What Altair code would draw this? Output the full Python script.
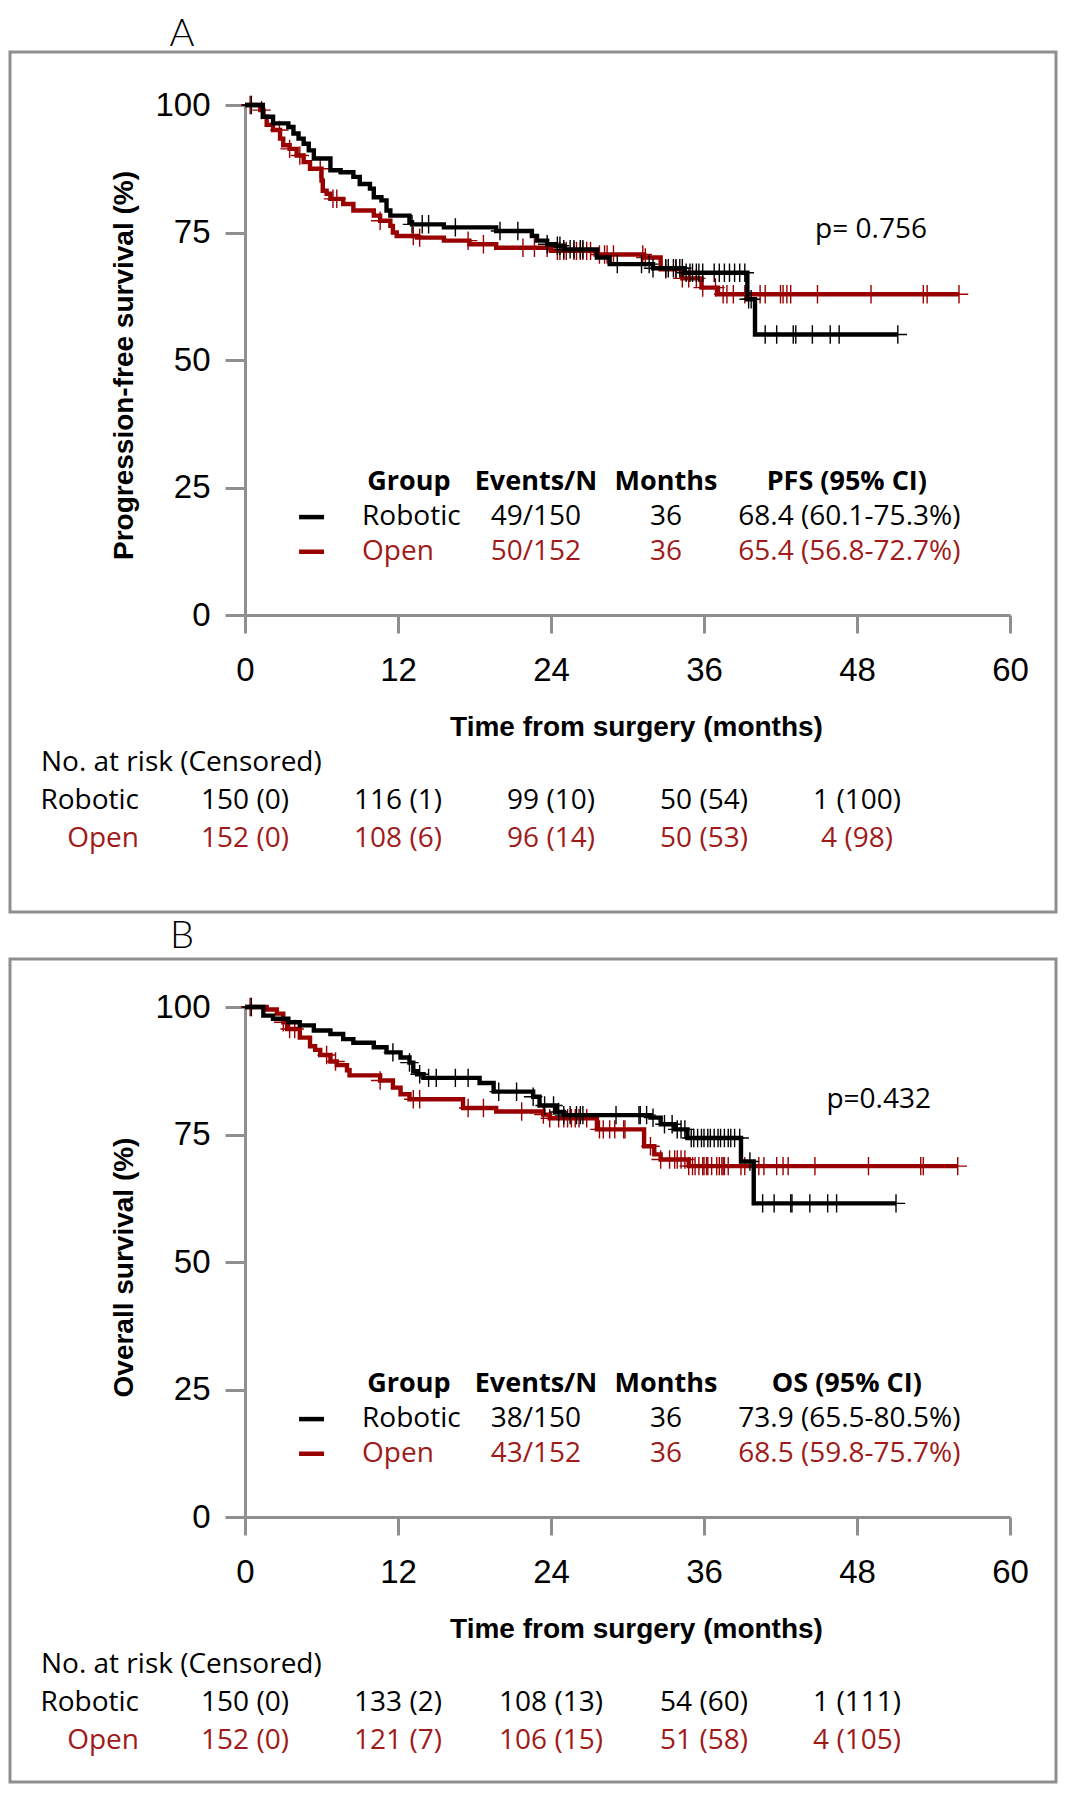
import altair as alt
import pandas as pd

# ---------------- data ----------------
GROUPS = ["Robotic", "Open"]

# Panel A: progression-free survival (step curves: time in months, survival %)
PFS_ROB_T = [0, 1.4, 2.2, 3.4, 3.8, 4.2, 4.6, 5.0, 5.4, 6.7, 7.5, 8.5, 9.0, 9.8, 10.1, 10.7, 11.1, 11.4,
             12.9, 13.1, 15.6, 19.7, 22.5, 22.9, 23.7, 24.4, 25.0, 27.6, 28.6, 32.0, 34.5, 39.4, 40.0, 51.2]
PFS_ROB_S = [100, 97.7, 96.4, 95.7, 94.4, 93.4, 92.4, 91.1, 89.5, 87.2, 86.8, 85.9, 84.5, 83.6, 81.9, 81.3, 79.3, 78.3,
             77.0, 76.6, 76.0, 75.3, 74.3, 73.4, 72.7, 72.4, 71.7, 70.1, 68.8, 68.0, 67.1, 61.9, 55.0, 55.0]
PFS_OPEN_T = [0, 1.2, 1.45, 1.7, 2.2, 2.75, 3.0, 3.5, 4.05, 4.6, 5.1, 6.0, 6.1, 6.4, 6.7, 7.7, 8.5, 10.1, 10.6,
              11.4, 11.6, 11.9, 13.5, 15.6, 17.6, 19.7, 24.0, 27.5, 31.3, 32.6, 34.3, 35.8, 37.1, 56.0]
PFS_OPEN_S = [100, 99.0, 97.7, 96.1, 95.1, 93.4, 92.1, 91.4, 90.1, 88.8, 87.5, 85.2, 83.2, 82.6, 81.6, 80.6, 79.3,
              78.3, 77.3, 76.3, 75.0, 74.3, 74.0, 73.4, 72.7, 72.0, 71.4, 70.7, 70.1, 67.8, 66.0, 64.2, 62.9, 62.9]
PFS_ROB_CENS = [0.5, 13.1, 13.9, 14.4, 16.5, 20.0, 21.4, 23.7, 24.5, 24.7, 25.0, 25.5, 25.8, 26.3, 26.5, 29.2,
                31.1, 31.7, 32.0, 33.0, 33.2, 33.6, 33.8, 34.1, 34.3, 34.6, 34.9, 35.1, 35.4, 35.6, 35.9, 36.8,
                37.2, 37.6, 38.0, 38.4, 38.8, 39.2, 39.5, 39.7, 40.8, 41.7, 43.0, 43.2, 44.5, 45.9, 46.6, 51.2]
PFS_OPEN_CENS = [0.4, 1.3, 2.7, 3.5, 4.3, 5.9, 6.9, 7.2, 10.6, 13.2, 13.7, 17.5, 18.7, 21.8, 22.7, 23.7, 24.5,
                 24.7, 25.0, 25.2, 25.8, 26.0, 26.3, 26.5, 26.8, 27.1, 27.8, 28.2, 28.4, 28.9, 31.2, 31.4, 33.0,
                 33.8, 34.3, 34.8, 35.4, 35.9, 36.9, 37.5, 37.8, 38.3, 39.2, 40.4, 40.8, 42.0, 42.2, 42.5, 42.8,
                 44.9, 49.1, 53.2, 53.5, 56.0]

# Panel B: overall survival
OS_ROB_T = [0, 1.44, 2.2, 3.4, 4.3, 5.4, 6.7, 7.7, 8.5, 10.1, 11.1, 12.2, 12.9, 13.2, 13.5, 14.0, 18.4, 19.5,
            22.6, 23.1, 24.4, 25.0, 31.8, 32.6, 33.7, 34.7, 38.9, 39.9, 51.06]
OS_ROB_S = [100, 98.3, 97.7, 97.0, 96.4, 95.4, 94.7, 93.7, 93.0, 92.1, 91.1, 90.1, 89.1, 87.4, 86.8, 86.1, 85.1,
            83.4, 82.4, 80.7, 79.4, 78.8, 78.3, 77.0, 76.0, 74.3, 69.7, 61.5, 61.5]
OS_OPEN_T = [0, 1.7, 2.5, 3.0, 3.3, 4.3, 5.1, 5.5, 5.9, 6.7, 7.2, 8.0, 8.2, 10.6, 11.6, 12.2, 12.9, 17.1, 19.7,
             23.4, 23.9, 27.6, 31.3, 32.1, 32.6, 34.8, 55.9]
OS_OPEN_S = [100, 99.5, 98.7, 97.0, 95.7, 94.0, 92.3, 91.6, 90.6, 89.3, 88.6, 87.6, 86.6, 85.6, 84.2, 82.9, 81.9,
             80.2, 79.5, 78.9, 78.2, 76.0, 72.7, 71.1, 70.1, 68.8, 68.8]
OS_ROB_CENS = [0.5, 11.6, 12.9, 13.7, 14.4, 15.0, 16.5, 17.5, 19.9, 21.3, 22.6, 23.5, 24.2, 24.6, 25.0, 25.5,
               26.0, 26.3, 26.5, 29.1, 30.9, 31.0, 31.5, 32.0, 32.9, 33.5, 33.9, 34.2, 34.5, 35.0, 35.2, 35.5,
               35.8, 36.0, 36.3, 36.5, 36.8, 37.1, 37.3, 37.6, 37.9, 38.1, 38.4, 38.8, 39.6, 40.6, 41.5, 42.8,
               42.9, 44.3, 45.7, 46.4, 51.06]
OS_OPEN_CENS = [0.4, 3.0, 3.5, 3.9, 6.4, 7.1, 10.6, 13.2, 13.7, 17.5, 18.7, 21.7, 23.4, 23.9, 24.6, 25.0, 25.3,
                25.6, 25.9, 26.2, 26.8, 27.8, 28.1, 28.6, 29.0, 29.7, 29.8, 31.8, 32.6, 33.3, 33.7, 33.9, 34.2,
                34.5, 34.8, 35.1, 35.3, 35.6, 35.9, 36.0, 36.2, 36.3, 36.6, 37.0, 37.2, 37.4, 37.5, 37.6, 37.9,
                38.9, 39.2, 40.3, 40.7, 41.7, 42.2, 42.6, 44.7, 48.9, 53.0, 53.2, 55.9]

# Legend tables
PFS_HEADERS = ["Group", "Events/N", "Months", "PFS (95% CI)"]
OS_HEADERS = ["Group", "Events/N", "Months", "OS (95% CI)"]
PFS_EVENTS = ["49/150", "50/152"]
OS_EVENTS = ["38/150", "43/152"]
MONTHS = ["36", "36"]
PFS_EST = ["68.4 (60.1-75.3%)", "65.4 (56.8-72.7%)"]
OS_EST = ["73.9 (65.5-80.5%)", "68.5 (59.8-75.7%)"]
P_PFS = "p= 0.756"
P_OS = "p=0.432"

# Numbers at risk
RISK_TIMES = [0, 12, 24, 36, 48]
PFS_RISK_ROB = ["150 (0)", "116 (1)", "99 (10)", "50 (54)", "1 (100)"]
PFS_RISK_OPEN = ["152 (0)", "108 (6)", "96 (14)", "50 (53)", "4 (98)"]
OS_RISK_ROB = ["150 (0)", "133 (2)", "108 (13)", "54 (60)", "1 (111)"]
OS_RISK_OPEN = ["152 (0)", "121 (7)", "106 (15)", "51 (58)", "4 (105)"]

X_TICKS = [0, 12, 24, 36, 48, 60]
Y_TICKS = [0, 25, 50, 75, 100]

# ---------------- styling ----------------
BLACK = "#000000"
RED = "#990000"
RED_TXT = "#A01A1A"
GRAY = "#8f8f8f"
TXT_FONT = "Open Sans"
AX_FONT = "Liberation Sans"
FS = 28
W, H = 765, 510


def make_x():
    return alt.X("t:Q", scale=alt.Scale(domain=[0, 60], nice=False, zero=False),
                 axis=alt.Axis(values=X_TICKS, format="d", title="Time from surgery (months)",
                               titleX=391, titleY=112, titleAlign="center", titleBaseline="middle",
                               tickSize=18, labelPadding=21))


def make_y(title):
    return alt.Y("s:Q", scale=alt.Scale(domain=[0, 100], nice=False, zero=False),
                 axis=alt.Axis(values=Y_TICKS, format="d", title=title, titleX=-121, titleY=260,
                               titleAngle=270, titleAlign="center", titleBaseline="middle",
                               tickSize=20, labelPadding=15))


def censor_df(cens, ts, ss):
    steps = pd.DataFrame({"t": [float(v) for v in ts], "s": ss}).sort_values("t")
    c = pd.DataFrame({"t": sorted(float(v) for v in cens)})
    return pd.merge_asof(c, steps, on="t")


ONE = pd.DataFrame({"a": [0]})


def panel(letter, ytitle, rob_t, rob_s, open_t, open_s, rob_c, open_c, ptext, ppos,
          headers, events, est, risk_rob, risk_open, top, box_top, bottom, letter_y, risk_y):
    X = make_x()
    Y = make_y(ytitle)
    layers = []
    # invisible background defining the panel bounds
    layers.append(alt.Chart(ONE).mark_rect(opacity=0).encode(
        x=alt.value(-237), x2=alt.value(813), y=alt.value(top), y2=alt.value(bottom)))
    # gray frame
    layers.append(alt.Chart(ONE).mark_rect(fillOpacity=0, stroke=GRAY, strokeWidth=3).encode(
        x=alt.value(-235), x2=alt.value(811), y=alt.value(box_top), y2=alt.value(bottom - 2)))
    # panel letter
    layers.append(alt.Chart(pd.DataFrame({"lab": [letter]})).mark_text(
        font="Lato", fontSize=38, fontWeight=300, align="center", baseline="middle", color=BLACK
    ).encode(x=alt.value(-63), y=alt.value(letter_y), text="lab:N"))

    # survival curves
    for ts, ss, cens, col in [(open_t, open_s, open_c, RED), (rob_t, rob_s, rob_c, BLACK)]:
        df = pd.DataFrame({"t": ts, "s": ss})
        layers.append(alt.Chart(df).mark_line(interpolate="step-after", strokeWidth=4.4, color=col)
                      .encode(x=X, y=Y))
        layers.append(alt.Chart(censor_df(cens, ts, ss)).mark_point(
            shape="M-1,0L1,0M0,-1L0,1", size=340, filled=False, strokeWidth=1.4, opacity=1, color=col
        ).encode(x=X, y=Y))

    # p-value
    layers.append(alt.Chart(pd.DataFrame({"t": [ppos[0]], "s": [ppos[1]], "lab": [ptext]})).mark_text(
        font=TXT_FONT, fontSize=FS, align="center", baseline="middle", color=BLACK
    ).encode(x=X, y=Y, text="lab:N"))

    # legend table
    col_t = [12.86, 22.82, 33.02, 47.2]
    layers.append(alt.Chart(pd.DataFrame({"t": col_t, "s": [26.0] * 4, "lab": headers})).mark_text(
        font=TXT_FONT, fontSize=27, fontWeight="bold", align="center", baseline="middle", color=BLACK
    ).encode(x=X, y=Y, text="lab:N"))
    row_s = [19.2, 12.4]
    cols = [BLACK, RED_TXT]
    layers.append(alt.Chart(pd.DataFrame({"t": [4.24, 4.24], "t2": [6.2, 6.2], "s": row_s,
                                          "c": [BLACK, RED]})).mark_rule(strokeWidth=4.5).encode(
        x=X, x2="t2:Q", y=Y, color=alt.Color("c:N", scale=None)))
    layers.append(alt.Chart(pd.DataFrame({"t": [9.18, 9.18], "s": row_s, "lab": GROUPS, "c": cols})).mark_text(
        font=TXT_FONT, fontSize=FS, align="left", baseline="middle"
    ).encode(x=X, y=Y, text="lab:N", color=alt.Color("c:N", scale=None)))
    cells = []
    for i in range(2):
        cells += [(col_t[1], row_s[i], events[i], cols[i]),
                  (col_t[2], row_s[i], MONTHS[i], cols[i]),
                  (47.4, row_s[i], est[i], cols[i])]
    layers.append(alt.Chart(pd.DataFrame(cells, columns=["t", "s", "lab", "c"])).mark_text(
        font=TXT_FONT, fontSize=FS, align="center", baseline="middle"
    ).encode(x=X, y=Y, text="lab:N", color=alt.Color("c:N", scale=None)))

    # risk table
    layers.append(alt.Chart(pd.DataFrame({"lab": ["No. at risk (Censored)"]})).mark_text(
        font=TXT_FONT, fontSize=FS, align="left", baseline="middle", color=BLACK
    ).encode(x=alt.value(-204), y=alt.value(risk_y[0]), text="lab:N"))
    for lab, vals, col, yy in [(GROUPS[0], risk_rob, BLACK, risk_y[1]),
                               (GROUPS[1], risk_open, RED_TXT, risk_y[2])]:
        layers.append(alt.Chart(pd.DataFrame({"lab": [lab]})).mark_text(
            font=TXT_FONT, fontSize=FS, align="right", baseline="middle", color=col
        ).encode(x=alt.value(-106), y=alt.value(yy), text="lab:N"))
        layers.append(alt.Chart(pd.DataFrame({"t": RISK_TIMES, "lab": vals})).mark_text(
            font=TXT_FONT, fontSize=FS, align="center", baseline="middle", color=col
        ).encode(x=X, y=alt.value(yy), text="lab:N"))

    return alt.layer(*layers).properties(width=W, height=H)


panel_a = panel("A", "Progression-free survival (%)", PFS_ROB_T, PFS_ROB_S, PFS_OPEN_T, PFS_OPEN_S,
                PFS_ROB_CENS, PFS_OPEN_CENS, P_PFS, (49.1, 75.5), PFS_HEADERS, PFS_EVENTS, PFS_EST,
                PFS_RISK_ROB, PFS_RISK_OPEN, top=-97, box_top=-53, bottom=809, letter_y=-70,
                risk_y=(658, 696, 734))
panel_b = panel("B", "Overall survival (%)", OS_ROB_T, OS_ROB_S, OS_OPEN_T, OS_OPEN_S,
                OS_ROB_CENS, OS_OPEN_CENS, P_OS, (49.7, 81.8), OS_HEADERS, OS_EVENTS, OS_EST,
                OS_RISK_ROB, OS_RISK_OPEN, top=-93, box_top=-48, bottom=777, letter_y=-70,
                risk_y=(658, 696, 734))

chart = alt.vconcat(panel_a, panel_b, spacing=0).properties(padding=0).configure_view(
    strokeWidth=0
).configure_axis(
    domainColor=GRAY, domainWidth=3, tickColor=GRAY, tickWidth=3,
    labelFont=AX_FONT, labelFontSize=33, labelColor=BLACK,
    titleFont=AX_FONT, titleFontSize=28, titleFontWeight="bold", titleColor=BLACK,
    grid=False, labelFlush=False, labelOverlap=False
)

chart.save("out.html", embed_options={"renderer": "svg", "actions": False})
